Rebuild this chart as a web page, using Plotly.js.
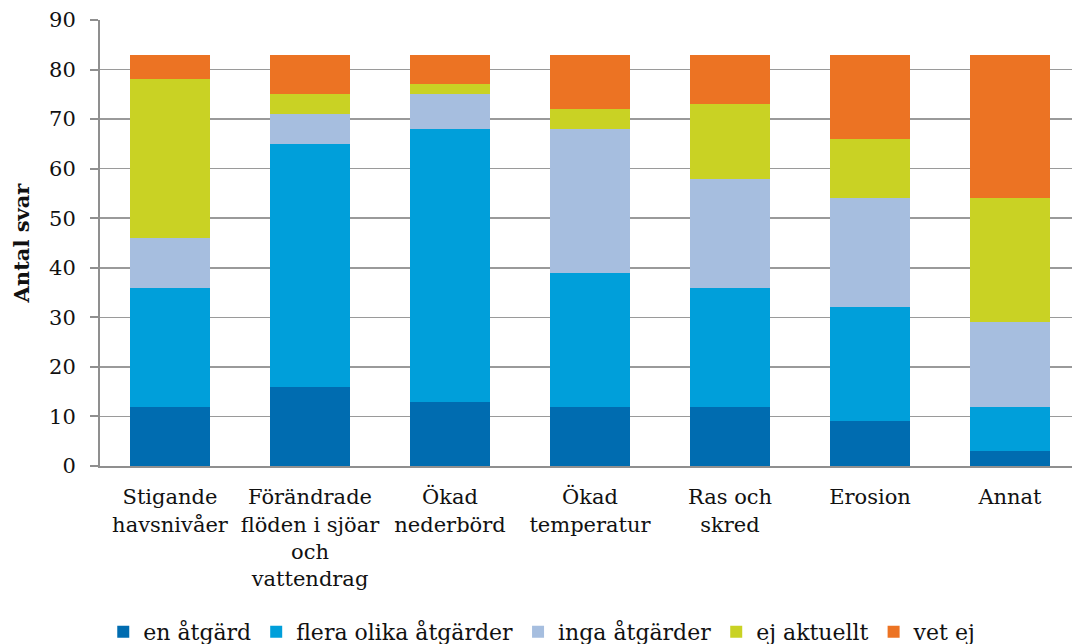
<!DOCTYPE html>
<html>
<head>
<meta charset="utf-8">
<script src="https://cdn.plot.ly/plotly-3.0.1.min.js"></script>
<style>html,body{margin:0;padding:0;background:#fff;}#chart{width:1072px;height:644px;}</style>
</head>
<body>
<div id="chart"></div>
<script>
var categories = ["Stigande<br>havsnivåer", "Förändrade<br>flöden i sjöar<br>och<br>vattendrag", "Ökad<br>nederbörd", "Ökad<br>temperatur", "Ras och<br>skred", "Erosion", "Annat"];
var enAtgard = [12, 16, 13, 12, 12, 9, 3];
var fleraOlikaAtgarder = [24, 49, 55, 27, 24, 23, 9];
var ingaAtgarder = [10, 6, 7, 29, 22, 22, 17];
var ejAktuellt = [32, 4, 2, 4, 15, 12, 25];
var vetEj = [5, 8, 6, 11, 10, 17, 29];
var yTicks = [0, 10, 20, 30, 40, 50, 60, 70, 80, 90];

var seriesNames = ["en åtgärd", "flera olika åtgärder", "inga åtgärder", "ej aktuellt", "vet ej"];
var seriesValues = [enAtgard, fleraOlikaAtgarder, ingaAtgarder, ejAktuellt, vetEj];
var seriesColors = ["#006CB0", "#009FDA", "#A6BEDF", "#C9D224", "#EC7323"];

var FONT = "DejaVu Serif, Georgia, serif";
var traces = seriesNames.map(function (n, i) {
  return {
    type: "bar",
    name: n,
    x: categories,
    y: seriesValues[i],
    marker: {color: seriesColors[i], line: {width: 0}},
    hoverinfo: "y+name"
  };
});

var layout = {
  width: 1072,
  height: 644,
  barmode: "stack",
  bargap: 0.4286,
  margin: {l: 100, r: 0, t: 20, b: 178, pad: 0, autoexpand: false},
  paper_bgcolor: "#fff",
  plot_bgcolor: "#fff",
  font: {family: FONT, size: 21, color: "#111"},
  xaxis: {
    type: "category",
    range: [-0.5, 6.443],
    showline: true,
    linecolor: "#8f8f8f",
    linewidth: 2,
    ticks: "",
    showgrid: false,
    ticklabelstandoff: 11,
    tickfont: {family: FONT, size: 21, color: "#111"},
    fixedrange: true
  },
  yaxis: {
    range: [0, 90],
    tickvals: yTicks,
    ticktext: yTicks.map(String),
    showline: true,
    linecolor: "#8f8f8f",
    linewidth: 2,
    ticks: "outside",
    ticklen: 8,
    tickwidth: 2,
    tickcolor: "#8f8f8f",
    showgrid: true,
    gridcolor: "#9a9a9a",
    gridwidth: 1.5,
    zeroline: false,
    ticklabelstandoff: 10,
    tickfont: {family: FONT, size: 21, color: "#111"},
    title: {text: "<b>Antal svar</b>", font: {family: FONT, size: 21, color: "#111"}, standoff: 14},
    fixedrange: true
  },
  legend: {
    orientation: "h",
    x: 0.455,
    xanchor: "center",
    y: -0.325,
    yanchor: "top",
    font: {family: FONT, size: 22, color: "#111"},
    traceorder: "normal",
    bgcolor: "rgba(0,0,0,0)"
  },
  showlegend: true
};

Plotly.newPlot("chart", traces, layout, {displayModeBar: false, staticPlot: true});
</script>
</body>
</html>
